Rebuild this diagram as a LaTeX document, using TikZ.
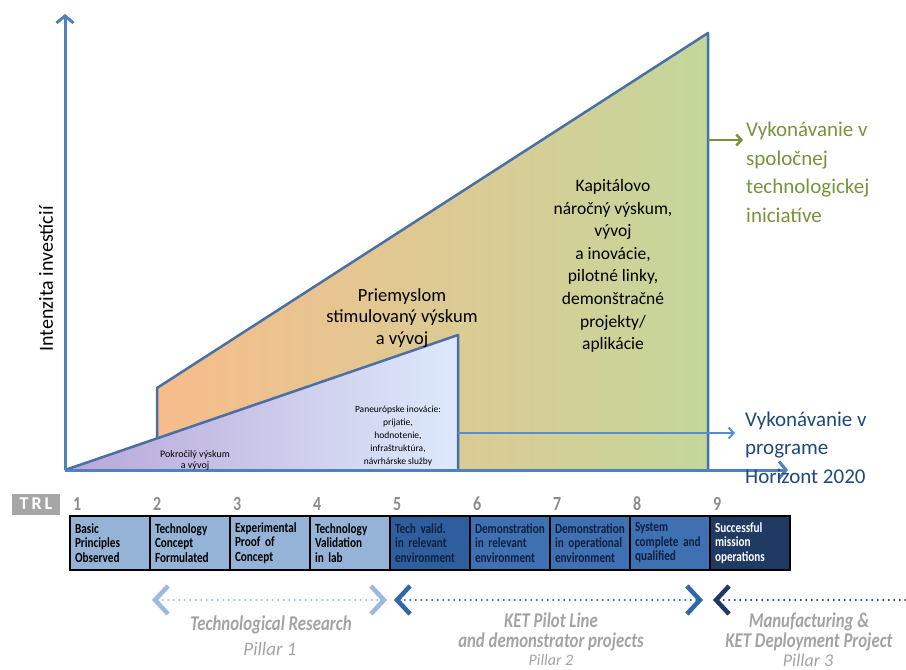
\documentclass[tikz,border=0pt]{standalone}
\usepackage{fontspec}
\setmainfont{Carlito}
\newfontfamily\narrowfont[FakeStretch=0.8]{Carlito}
\usetikzlibrary{arrows.meta,positioning}
\definecolor{axisblue}{HTML}{4F81BD}
\definecolor{edgeblue}{HTML}{4A6FA5}
\definecolor{caporange}{HTML}{F7BC8B}
\definecolor{captan}{HTML}{DCC99C}
\definecolor{capgreen}{HTML}{C4D79B}
\definecolor{advpurple}{HTML}{B8A6D7}
\definecolor{advblue}{HTML}{DDE9FB}
\definecolor{jtigreen}{HTML}{77933C}
\definecolor{h2020arrow}{HTML}{558ED5}
\definecolor{h2020text}{HTML}{1F497D}
\definecolor{trlA}{HTML}{95B3D7}
\definecolor{trlB}{HTML}{2E5E9E}
\definecolor{trlC}{HTML}{3E70B2}
\definecolor{trlD}{HTML}{1F3A63}
\definecolor{trlink}{HTML}{10203F}
\definecolor{trlgray}{HTML}{A6A6A6}
\definecolor{numgray}{HTML}{8C8C8C}
\definecolor{labelgray}{HTML}{A3A3A3}
\definecolor{pillarA}{HTML}{9DB9DC}
\definecolor{pillarB}{HTML}{2E68AB}
\definecolor{pillarC}{HTML}{1F3864}

\tikzset{
  invaxis/.style={axisblue, line width=3pt, -{Straight Barb[length=7pt,width=17pt]}},
  trlbox/.style={draw=black, line width=2.5pt, minimum width=80pt, minimum height=54pt,
    inner xsep=5pt, text width=70pt, align=left,
    font=\narrowfont\bfseries\fontsize{14}{14.5}\selectfont},
  pillar/.style={line width=2.2pt, line cap=round, dash pattern=on 0pt off 5.5pt},
  chev/.tip={Straight Barb[length=13pt,width=28pt,line width=4.5pt]},
  pillartext/.style={labelgray, align=center},
}

\begin{document}
\begin{tikzpicture}[x=1pt,y=-1pt]
  \useasboundingbox (0,0) rectangle (906,670);

  % capital intensive stage (back shape)
  \shade[left color=caporange, middle color=captan, right color=capgreen]
    (157,470) -- (157,388) -- (708,33) -- (708,470) -- cycle;
  \draw[edgeblue, line width=2.5pt, line join=round]
    (157,470) -- (157,388) -- (708,33) -- (708,470);

  % research stage (front triangle)
  \shade[left color=advpurple, right color=advblue]
    (65,470) -- (458,335) -- (458,470) -- cycle;
  \draw[edgeblue, line width=2.5pt, line join=round]
    (65,470) -- (458,335) -- (458,470);

  % axes
  \coordinate (origin) at (65,470);
  \coordinate (ytop) at (65,14);
  \coordinate (xend) at (788,470);
  \draw[invaxis] (origin) -- (ytop);
  \draw[invaxis] (origin) -- (xend);
  \node[rotate=90, font=\fontsize{20}{24}\selectfont] (ylab) at (46,279) {Intenzita investícií};

  % texts inside the shapes
  \node[align=center, font=\fontsize{18.5}{21.5}\selectfont] (industry) at (402,318)
    {Priemyslom\\stimulovaný výskum\\a vývoj};
  \node[align=center, font=\fontsize{17.5}{22.6}\selectfont] (capital) at (613,266)
    {Kapitálovo\\náročný výskum,\\vývoj\\a inovácie,\\pilotné linky,\\demonštračné\\projekty/\\aplikácie};
  \node[align=center, font=\fontsize{9.5}{13}\selectfont] (paneu) at (398,436)
    {Paneurópske inovácie:\\prijatie,\\hodnotenie,\\infraštruktúra,\\návrhárske služby};
  \node[align=center, font=\fontsize{10}{11}\selectfont] (advanced) at (195,460)
    {Pokročilý výskum\\a vývoj};

  % implementation arrows (base = last line)
  \coordinate (jtifrom) at (708,140);
  \coordinate (h2020from) at (458,433);
  \node[anchor=base west, inner sep=0, align=left, jtigreen, font=\fontsize{21}{28.5}\selectfont]
    (jti) at (746,222) {Vykonávanie v\\spoločnej\\technologickej\\iniciatíve};
  \node[anchor=base west, inner sep=0, align=left, h2020text, font=\fontsize{21}{28.5}\selectfont]
    (h2020) at (745,483) {Vykonávanie v\\programe\\Horizont 2020};
  \draw[jtigreen, line width=2.5pt, -{Straight Barb[length=5pt,width=11pt]}]
    (jtifrom) -- ([xshift=-3pt]jtifrom -| jti.west);
  \draw[h2020arrow, line width=2pt, -{Straight Barb[length=5pt,width=11pt]}]
    (h2020from) -- ++(277,0) coordinate (h2020to);

  % TRL scale
  \node[fill=trlgray, text=white, inner sep=0, minimum width=48pt, minimum height=21pt,
    font=\bfseries\fontsize{18}{18}\selectfont] (trl) at (36,504) {T\,R\,L};
  \foreach \n/\txt/\col/\ink in {
      1/{Basic\\Principles\\Observed}/trlA/black,
      2/{Technology\\Concept\\Formulated}/trlA/black,
      3/{Experimental\\Proof of\\Concept}/trlA/black,
      4/{Technology\\Validation\\in lab}/trlA/black,
      5/{Tech valid.\\in relevant\\environment}/trlB/trlink,
      6/{Demonstration\\in relevant\\environment}/trlC/trlink,
      7/{Demonstration\\in operational\\environment}/trlC/trlink,
      8/{System\\complete and\\qualified}/trlC/trlink,
      9/{Successful\\mission\\operations}/trlD/white} {
    \node[trlbox, fill=\col, text=\ink] (box\n) at ({110+80*(\n-1)},543) {\txt};
    \node[anchor=west, inner sep=0, text=numgray, font=\narrowfont\bfseries\fontsize{20}{20}\selectfont]
      (num\n) at ({73+80*(\n-1)},504) {\n};
  }

  % pillars
  \coordinate (p1a) at (152,600);
  \coordinate (p1b) at (387,600);
  \coordinate (p2a) at (394,600);
  \coordinate (p2b) at (703,600);
  \coordinate (p3a) at (713,600);
  \coordinate (p3b) at (906,600);
  \draw[pillar, pillarA, chev-chev] (p1a) -- (p1b);
  \draw[pillar, pillarB, chev-chev] (p2a) -- (p2b);
  \draw[pillar, pillarC, chev-] (p3a) -- (p3b);

  \node[pillartext, font=\narrowfont\bfseries\itshape\fontsize{21}{20}\selectfont] (res) at (271,625) {Technological Research};
  \node[pillartext, font=\itshape\fontsize{19}{19}\selectfont] (pil1) at (270,649) {Pillar 1};
  \node[pillartext, font=\narrowfont\bfseries\itshape\fontsize{21}{19.5}\selectfont] (ket) at (551,632)
    {KET Pilot Line\\and demonstrator projects};
  \node[pillartext, font=\itshape\fontsize{16}{16}\selectfont] (pil2) at (551,660) {Pillar 2};
  \node[pillartext, font=\narrowfont\bfseries\itshape\fontsize{21}{19.5}\selectfont] (manu) at (809,632)
    {Manufacturing \&\\KET Deployment Project};
  \node[pillartext, font=\itshape\fontsize{18}{18}\selectfont] (pil3) at (808,660) {Pillar 3};
\end{tikzpicture}
\end{document}
